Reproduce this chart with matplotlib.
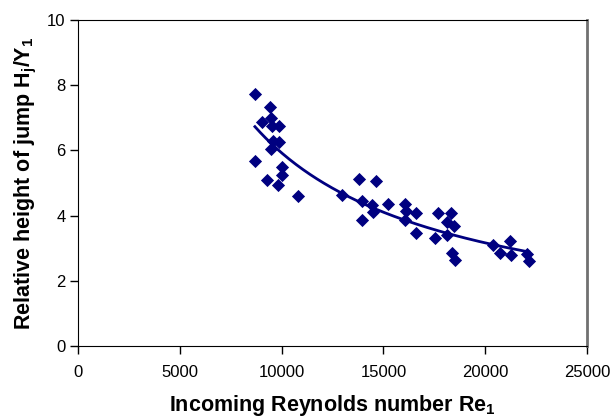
import matplotlib
matplotlib.use("Agg")
import matplotlib.pyplot as plt
import numpy as np

plt.rcParams['font.family'] = ['Liberation Sans', 'DejaVu Sans']
plt.rcParams['mathtext.fontset'] = 'custom'
plt.rcParams['mathtext.rm'] = 'Liberation Sans'
plt.rcParams['mathtext.bf'] = 'Liberation Sans:bold'

# measured points (Re1, Hj/Y1)
reynolds = [8690, 9430, 9020, 9480, 9510, 9890, 9590, 9890, 9480, 8690,
            10030, 10030, 9300, 9840, 10820, 12950, 13820, 14640, 13930, 14430,
            14470, 15210, 13930, 16060, 16100, 16060, 16600, 16600, 17670, 18320,
            18110, 18470, 17530, 18110, 18350, 18520, 20380, 20730, 21220, 21260,
            22040, 22140]
rel_height = [7.73, 7.34, 6.88, 7.00, 6.75, 6.76, 6.30, 6.27, 6.03, 5.67,
              5.48, 5.25, 5.09, 4.94, 4.61, 4.63, 5.11, 5.07, 4.46, 4.33,
              4.12, 4.35, 3.87, 4.37, 4.13, 3.88, 4.09, 3.46, 4.09, 4.09,
              3.81, 3.68, 3.30, 3.40, 2.84, 2.64, 3.11, 2.84, 3.21, 2.78,
              2.83, 2.60]

x_ticks = [0, 5000, 10000, 15000, 20000, 25000]
y_ticks = [0, 2, 4, 6, 8, 10]

navy = '#000080'

x = np.array(reynolds)
y = np.array(rel_height)

# power-law trend line, like Excel's "power" trendline
b, log_a = np.polyfit(np.log(x), np.log(y), 1)
xf = np.linspace(x.min(), x.max(), 200)
yf = np.exp(log_a) * xf ** b

fig = plt.figure(figsize=(6.14, 4.19), dpi=100)
ax = fig.add_axes([78 / 614, 73 / 419, 509 / 614, 326 / 419])

ax.scatter(x, y, marker='D', s=45, color=navy, linewidths=0, zorder=3)
ax.plot(xf, yf, color=navy, lw=2, zorder=2)

ax.set_xlim(0, 25000)
ax.set_ylim(0, 10)
ax.set_xticks(x_ticks)
ax.set_yticks(y_ticks)
ax.tick_params(direction='out', length=6, width=1, labelsize=12, pad=8, colors='black')
ax.tick_params(axis='y', pad=3)

for side in ['left', 'bottom', 'top']:
    ax.spines[side].set_color('black')
ax.spines['right'].set_color('#707070')
ax.spines['right'].set_linewidth(2)

ax.set_xlabel('Incoming Reynolds number Re$_\\mathbf{1}$', fontsize=15.5, fontweight='bold', labelpad=9)
ax.set_ylabel('Relative height of jump H$_\\mathbf{j}$/Y$_\\mathbf{1}$', fontsize=15.5, fontweight='bold', labelpad=6)

fig.savefig('out.png', dpi=100)
